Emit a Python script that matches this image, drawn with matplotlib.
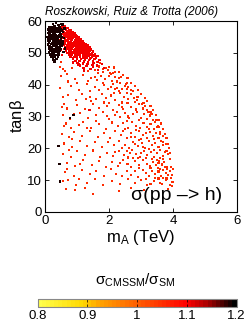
import matplotlib
matplotlib.use("Agg")
import matplotlib.pyplot as plt
import numpy as np
from matplotlib.colors import LinearSegmentedColormap, Normalize
from matplotlib.cm import ScalarMappable

plt.rcParams['font.family'] = ['Liberation Sans', 'DejaVu Sans']
plt.rcParams['mathtext.fontset'] = 'custom'
plt.rcParams['mathtext.rm'] = 'Liberation Sans'
plt.rcParams['mathtext.it'] = 'Liberation Sans:italic'

# black cluster, sigma ratio ~1.2 (high tan beta, light m_A)
black_ratio = 1.19
black_x = [0.25, 0.35, 0.42, 0.50,
           0.12, 0.20, 0.30, 0.38, 0.45,
           0.10, 0.17, 0.27, 0.33, 0.41, 0.48,
           0.14, 0.22, 0.30, 0.37, 0.44, 0.52,
           0.09, 0.16, 0.24, 0.32, 0.39, 0.46,
           0.12, 0.20, 0.28, 0.35, 0.43, 0.50,
           0.08, 0.15, 0.23, 0.31, 0.38, 0.45, 0.53,
           0.11, 0.19, 0.27, 0.34, 0.41, 0.49,
           0.09, 0.16, 0.24, 0.32, 0.39, 0.46, 0.54,
           0.13, 0.21, 0.28, 0.36, 0.43, 0.50,
           0.10, 0.18, 0.26, 0.33, 0.41, 0.48,
           0.14, 0.22, 0.30, 0.37, 0.45, 0.52,
           0.12, 0.20, 0.27, 0.35, 0.42, 0.50,
           0.15, 0.23, 0.31, 0.39, 0.46,
           0.13, 0.21, 0.29, 0.37, 0.44,
           0.17, 0.26, 0.34, 0.42,
           0.20, 0.30, 0.40,
           0.25, 0.36,
           0.30,
           0.18, 0.26, 0.34, 0.22, 0.29, 0.37, 0.16, 0.31, 0.40, 0.27,
           0.57, 0.60, 0.56, 0.62, 0.58, 0.55, 0.61,
           0.42, 0.45, 0.47, 0.78, 0.89]
black_y = [59.0, 59.3, 58.8, 59.1,
           58.2, 58.0, 58.3, 57.9, 58.1,
           57.4, 57.6, 57.3, 57.5, 57.6, 57.4,
           56.9, 57.0, 56.8, 57.1, 56.9, 57.0,
           56.3, 56.4, 56.2, 56.3, 56.5, 56.2,
           55.7, 55.6, 55.8, 55.7, 55.6, 55.8,
           55.0, 55.1, 54.9, 55.0, 55.2, 54.9, 55.0,
           54.4, 54.3, 54.5, 54.4, 54.3, 54.5,
           53.8, 53.9, 53.7, 53.8, 53.9, 53.7, 53.8,
           53.2, 53.1, 53.3, 53.2, 53.1, 53.3,
           52.6, 52.7, 52.5, 52.6, 52.7, 52.5,
           52.0, 51.9, 52.1, 52.0, 51.9, 52.1,
           51.4, 51.5, 51.3, 51.4, 51.5, 51.3,
           50.8, 50.7, 50.9, 50.8, 50.7,
           50.2, 50.1, 50.3, 50.2, 50.1,
           49.5, 49.6, 49.4, 49.5,
           48.8, 48.9, 48.7,
           48.0, 48.1,
           47.3,
           54.7, 55.3, 53.5, 56.6, 52.3, 51.7, 50.5, 49.1, 56.9, 47.7,
           56.5, 54.6, 52.9, 51.4, 50.3, 58.9, 57.6,
           20.8, 15.0, 9.5, 29.5, 30.5]

# dense red band, ratio ~1.1
red_ratio = 1.1
red_x = [0.55, 0.62,
         0.58, 0.70,
         0.56, 0.65, 0.74, 0.82,
         0.60, 0.68, 0.77, 0.86, 0.93,
         0.57, 0.64, 0.72, 0.80, 0.89, 0.97,
         0.61, 0.69, 0.76, 0.84, 0.92, 1.00, 1.07,
         0.58, 0.66, 0.73, 0.81, 0.88, 0.96, 1.04, 1.12,
         0.62, 0.70, 0.78, 0.85, 0.93, 1.01, 1.09, 1.17,
         0.59, 0.67, 0.75, 0.82, 0.90, 0.98, 1.06, 1.14, 1.22,
         0.63, 0.71, 0.79, 0.87, 0.95, 1.03, 1.11, 1.19, 1.27, 1.33,
         0.60, 0.68, 0.76, 0.84, 0.92, 1.00, 1.08, 1.16, 1.24, 1.31, 1.39,
         0.64, 0.72, 0.80, 0.88, 0.96, 1.04, 1.12, 1.20, 1.28, 1.36, 1.44,
         0.61, 0.69, 0.77, 0.85, 0.93, 1.01, 1.09, 1.17, 1.25, 1.33, 1.41, 1.50,
         0.66, 0.74, 0.82, 0.90, 0.98, 1.06, 1.14, 1.22, 1.30, 1.38, 1.47, 1.56,
         0.70, 0.79, 0.87, 0.95, 1.03, 1.11, 1.19, 1.27, 1.36, 1.45, 1.55, 1.64,
         0.76, 0.85, 0.94, 1.02, 1.10, 1.18, 1.27, 1.36, 1.46, 1.60,
         0.80, 0.92, 1.00, 1.09, 1.20, 1.30, 1.42, 1.55, 1.70,
         0.88, 1.00, 1.12, 1.25, 1.38, 1.50, 1.66,
         0.95, 1.08, 1.22, 1.35, 1.52, 1.78,
         1.02, 1.18, 1.33, 1.48, 1.62,
         1.10, 1.30, 1.50, 1.85,
         1.20, 1.42, 1.65,
         0.66, 0.83, 0.99, 1.15, 1.29, 0.74, 0.91, 1.07, 1.23, 1.40, 0.87, 1.04, 1.21,
         0.47, 0.52, 0.49, 0.53, 0.46, 0.51,
         1.39]
red_y = [58.5, 58.3,
         58.0, 57.8,
         57.3, 57.4, 57.2, 57.0,
         56.6, 56.7, 56.5, 56.4, 56.2,
         56.0, 56.1, 55.9, 56.0, 55.8, 55.6,
         55.4, 55.3, 55.5, 55.4, 55.2, 55.1, 54.9,
         54.8, 54.9, 54.7, 54.8, 54.6, 54.7, 54.5, 54.3,
         54.2, 54.1, 54.3, 54.2, 54.0, 54.1, 53.9, 53.7,
         53.6, 53.7, 53.5, 53.6, 53.4, 53.5, 53.3, 53.4, 53.1,
         53.0, 52.9, 53.1, 53.0, 52.8, 52.9, 52.7, 52.8, 52.6, 52.4,
         52.4, 52.5, 52.3, 52.4, 52.2, 52.3, 52.1, 52.2, 52.0, 51.9, 51.7,
         51.8, 51.7, 51.9, 51.8, 51.6, 51.7, 51.5, 51.6, 51.4, 51.3, 51.1,
         51.2, 51.3, 51.1, 51.2, 51.0, 51.1, 50.9, 51.0, 50.8, 50.7, 50.5, 50.4,
         50.6, 50.5, 50.7, 50.6, 50.4, 50.5, 50.3, 50.4, 50.2, 50.1, 49.9, 49.7,
         50.0, 49.9, 50.1, 50.0, 49.8, 49.9, 49.7, 49.8, 49.6, 49.5, 49.2, 49.0,
         49.4, 49.3, 49.5, 49.4, 49.2, 49.3, 49.1, 49.0, 48.8, 48.5,
         48.8, 48.7, 48.9, 48.8, 48.6, 48.5, 48.3, 48.1, 47.8,
         48.2, 48.0, 48.1, 47.9, 47.7, 47.5, 47.2,
         47.5, 47.4, 47.3, 47.1, 46.8, 46.5,
         46.8, 46.6, 46.5, 46.2, 46.0,
         46.0, 45.8, 45.5, 45.2,
         45.3, 45.0, 44.7,
         55.7, 55.0, 54.4, 53.3, 52.7, 51.5, 50.9, 50.1, 49.6, 48.2, 47.0, 46.3, 44.4,
         53.0, 55.9, 51.0, 49.3, 54.1, 57.7,
         32.1]

# sparse orange-red points, ratio ~1.05
sparse_ratio = 1.05
sparse_x = [0.48, 0.62, 0.85, 1.55, 1.70, 1.80, 1.92, 1.98, 1.65, 2.02,
            0.50, 0.95, 1.20, 1.45, 1.62, 1.75, 1.88, 2.00, 2.10, 2.18, 2.25, 1.35, 2.05, 0.72,
            0.47, 0.80, 1.05, 1.30, 1.55, 1.70, 1.85, 1.98, 2.12, 2.25, 2.35, 2.42, 2.50, 2.30, 2.55, 2.60, 1.40, 2.05,
            0.55, 0.72, 0.98, 1.15, 1.42, 1.60, 1.78, 1.90, 2.05, 2.20, 2.35, 2.48, 2.60, 2.70, 2.78, 2.88, 2.55, 2.15, 1.28,
            0.60, 0.70, 1.00, 1.25, 1.50, 1.70, 1.95, 2.00, 2.12, 2.30, 2.45, 2.58, 2.70, 2.85, 2.95, 3.05, 3.12, 2.40, 1.85, 3.20,
            0.55, 0.78, 0.90, 1.10, 1.35, 1.60, 1.80, 2.00, 2.18, 2.35, 2.50, 2.62, 2.75, 2.88, 3.00, 3.10, 3.20, 3.28, 2.25, 1.95, 3.30,
            0.65, 0.82, 1.05, 1.20, 1.45, 1.70, 1.90, 2.10, 2.28, 2.45, 2.60, 2.72, 2.85, 2.98, 3.08, 3.20, 3.30, 3.40, 3.45, 2.55, 1.60, 3.52,
            0.52, 0.75, 0.92, 1.15, 1.40, 1.65, 1.85, 2.02, 2.20, 2.38, 2.55, 2.68, 2.80, 2.95, 3.05, 3.18, 3.28, 3.38, 3.48, 3.55, 3.60, 2.45, 3.00,
            0.60, 0.85, 1.10, 1.30, 1.55, 1.78, 1.98, 2.15, 2.32, 2.50, 2.62, 2.75, 2.90, 3.02, 3.12, 3.25, 3.35, 3.45, 3.55, 3.62, 3.70, 2.42, 2.95,
            0.55, 0.80, 1.00, 1.25, 1.50, 1.72, 1.95, 2.12, 2.30, 2.48, 2.60, 2.72, 2.85, 2.98, 3.10, 3.20, 3.32, 3.42, 3.50, 3.60, 3.68, 3.75, 3.40, 2.55, 3.00,
            0.70, 0.95, 1.20, 1.48, 1.70, 1.92, 2.10, 2.28, 2.45, 2.58, 2.70, 2.82, 2.95, 3.05, 3.18, 3.28, 3.38, 3.48, 3.58, 3.65, 3.72, 3.80, 3.68, 3.55, 3.35,
            0.62, 0.90, 1.15, 1.40, 1.60, 1.85, 2.05, 2.22, 2.40, 2.55, 2.68, 2.80, 2.92, 3.05, 3.15, 3.25, 3.35, 3.45, 3.55, 3.62, 3.70, 3.78, 3.85, 3.92, 3.60, 3.82,
            0.55, 0.72, 0.98, 1.05, 1.30, 1.55, 1.80, 2.10, 2.35, 2.60, 2.82, 3.00, 3.20, 3.40, 3.55, 3.65, 3.78, 3.90, 3.98,
            0.65, 0.95, 1.50, 1.25, 2.30, 3.10, 3.85, 2.70,
            # near the upper envelope
            1.62, 1.73, 1.91, 1.99, 2.12, 2.18, 2.31, 2.38, 2.52, 2.57, 2.69, 2.75, 2.87, 2.92, 3.04, 3.08, 3.19,
            3.23, 3.33, 3.38, 3.47, 3.49, 3.57, 3.60, 3.69, 3.70, 3.79, 3.80, 3.86, 3.91, 3.93, 3.99, 3.97, 4.01, 3.98,
            1.50, 1.68, 1.82, 2.15, 2.32, 2.45, 2.58, 2.70, 2.82, 2.90, 3.00, 3.12, 3.20, 3.30, 3.38, 3.48, 3.55,
            3.62, 3.68, 3.75, 3.80, 3.85, 3.88, 3.92,
            # denser lower right
            2.90, 3.15, 3.30, 3.52, 3.70, 3.45, 3.15, 2.95, 2.75, 3.60, 3.25, 3.05, 2.80, 3.40, 3.15, 2.70, 2.50,
            2.85, 3.25, 2.95, 2.60, 2.40, 2.80, 2.20, 1.80, 1.55, 1.35, 2.65, 2.35, 2.20, 3.50, 3.75, 3.80, 3.95,
            3.30, 3.60,
            # extra lower left
            0.52, 0.60, 0.75, 0.68, 1.10, 0.85, 1.30, 1.00, 0.70, 1.45, 0.50, 0.55]
sparse_y = [45.5, 44.2, 45.1, 44.6, 45.8, 44.1, 45.3, 44.5, 43.8, 43.6,
            42.6, 41.8, 43.1, 42.2, 41.5, 42.8, 41.9, 42.7, 41.3, 42.4, 41.0, 41.2, 43.3, 41.0,
            38.9, 39.5, 38.4, 40.1, 39.2, 38.3, 39.8, 38.6, 40.2, 39.1, 40.4, 38.5, 39.6, 38.1, 38.7, 39.3, 38.0, 39.4,
            36.2, 36.8, 35.3, 37.2, 36.0, 35.4, 37.0, 35.8, 36.6, 35.2, 37.3, 36.1, 35.5, 37.0, 35.9, 35.3, 37.4, 37.5, 35.6,
            34.0, 32.5, 33.6, 32.3, 33.8, 32.6, 33.2, 34.3, 32.1, 33.5, 32.4, 34.1, 33.0, 32.2, 33.8, 32.5, 33.3, 34.4, 34.4, 32.0,
            30.5, 29.2, 30.8, 31.2, 29.5, 30.4, 31.3, 29.3, 30.6, 29.8, 31.1, 29.4, 30.7, 31.4, 29.6, 30.9, 29.2, 30.3, 31.4, 30.2, 31.5,
            27.8, 26.5, 27.2, 28.3, 26.4, 27.6, 26.2, 28.1, 26.9, 27.9, 26.3, 28.4, 27.1, 26.5, 28.0, 26.8, 27.7, 26.2, 28.2, 28.5, 28.5, 26.9,
            24.6, 23.5, 25.2, 24.0, 25.3, 23.4, 24.8, 23.2, 25.4, 24.2, 23.1, 24.9, 23.6, 25.3, 24.1, 23.3, 25.0, 23.9, 24.7, 23.2, 25.2, 25.5, 22.9,
            21.5, 20.4, 22.3, 20.8, 21.9, 20.3, 22.1, 20.9, 22.4, 21.0, 20.2, 22.0, 20.7, 21.8, 20.1, 22.3, 20.9, 21.7, 20.3, 22.2, 21.1, 20.0, 22.5,
            18.2, 17.4, 19.1, 17.8, 19.3, 17.2, 18.6, 17.5, 19.2, 18.0, 17.1, 19.4, 18.3, 17.3, 19.0, 17.8, 18.9, 17.2, 18.6, 19.4, 17.6, 18.8, 19.5, 19.0, 18.5,
            15.5, 14.4, 16.2, 14.8, 16.0, 14.2, 15.6, 14.5, 16.3, 15.0, 14.1, 15.9, 14.7, 16.4, 15.2, 14.3, 15.8, 14.6, 16.1, 14.9, 15.6, 14.2, 16.5, 15.4, 16.5,
            12.5, 11.4, 13.1, 11.8, 12.9, 11.2, 13.4, 12.0, 11.3, 13.0, 11.7, 12.8, 11.1, 13.3, 12.1, 11.4, 13.0, 11.9, 12.7, 11.3, 13.2, 12.2, 11.5, 12.8, 13.5, 13.4,
            9.6, 9.9, 8.6, 10.2, 9.1, 10.4, 8.4, 9.7, 8.8, 10.3, 9.0, 10.1, 8.5, 9.6, 10.5, 8.8, 9.9, 8.4, 9.5,
            7.2, 6.8, 5.6, 7.4, 6.5, 7.0, 7.3, 7.4,
            47.0, 46.9, 45.1, 45.5, 43.8, 43.9, 42.1, 42.3, 40.1, 40.5, 38.4, 38.0, 36.1, 36.2, 34.0, 34.1, 31.9,
            31.5, 30.9, 28.8, 29.0, 26.8, 26.6, 24.5, 24.0, 22.0, 21.3, 19.0, 18.1, 16.6, 14.0, 13.4, 11.6, 9.4, 8.0,
            46.5, 45.5, 44.8, 45.4, 44.1, 42.9, 42.0, 40.6, 39.5, 38.2, 37.0, 35.8, 34.9, 33.2, 32.0, 30.4, 29.0,
            27.8, 26.2, 24.6, 23.2, 21.4, 20.1, 18.4,
            16.8, 16.9, 13.8, 13.9, 10.8, 10.6, 10.3, 13.8, 16.8, 17.0, 19.8, 20.5, 21.2, 22.8, 24.7, 23.4, 26.0,
            25.8, 26.0, 28.9, 30.0, 32.9, 34.6, 38.7, 40.5, 42.5, 44.3, 18.5, 15.3, 18.8, 16.2, 14.0, 10.5, 10.8,
            8.9, 9.2,
            33.0, 27.0, 19.5, 13.5, 15.2, 23.0, 26.5, 40.5, 43.5, 35.0, 47.0, 45.0]

ratio_ticks = [0.8, 0.9, 1.0, 1.1, 1.2]
ratio_labels = ['0.8', '0.9', '1', '1.1', '1.2']

# colormap yellow -> orange -> red -> black, stepped like the original
cmap = LinearSegmentedColormap.from_list(
    'sig', [(0.0, (1.0, 1.0, 0.3)), (0.22, (1.0, 0.85, 0.0)), (0.3, (1.0, 0.65, 0.0)),
            (0.55, (1.0, 0.3, 0.0)), (0.75, (1.0, 0.0, 0.0)), (0.85, (0.7, 0.0, 0.0)),
            (1.0, (0.0, 0.0, 0.0))], N=48)
norm = Normalize(vmin=0.8, vmax=1.2)

fig = plt.figure(figsize=(2.49, 3.24), dpi=100)
ax = fig.add_axes([0.181, 0.346, 0.770, 0.589])

groups = [(sparse_x, sparse_y, sparse_ratio, 2.2),
          (red_x, red_y, red_ratio, 3.0),
          (black_x, black_y, black_ratio, 3.0)]
for xs, ys, r, size in groups:
    ax.scatter(xs, ys, c=np.full(len(xs), r), cmap=cmap, norm=norm,
               marker='s', s=size, linewidths=0)

ax.set_xlim(0, 6)
ax.set_ylim(0, 60)
ax.set_xticks([0, 2, 4, 6])
ax.set_yticks([0, 10, 20, 30, 40, 50, 60])
ax.tick_params(direction='in', top=True, right=True, length=3, width=0.6, labelsize=9.5, pad=2)
for sp in ax.spines.values():
    sp.set_linewidth(0.8)
ax.set_xlabel(r'm$_\mathrm{A}$ (TeV)', fontsize=12, labelpad=1)
ax.set_ylabel(r'tan$\mathrm{\beta}$', fontsize=12, labelpad=0)
ax.text(0.925, 0.04, 'σ(pp –> h)', transform=ax.transAxes, ha='right', va='bottom', fontsize=14)

fig.text(0.181, 0.963, 'Roszkowski, Ruiz & Trotta (2006)', fontsize=8.5, style='italic',
         ha='left', va='center')

# horizontal colorbar
cax = fig.add_axes([0.151, 0.0515, 0.799, 0.0247])
cb = fig.colorbar(ScalarMappable(norm=norm, cmap=cmap), cax=cax, orientation='horizontal')
cb.set_ticks(ratio_ticks)
cb.set_ticklabels(ratio_labels)
cb.outline.set_edgecolor('#888888')
cb.outline.set_linewidth(0.8)
cax.tick_params(direction='in', top=True, length=2, width=0.5, labelsize=9.5, pad=2)
fig.text(0.544, 0.136, r'σ$_\mathrm{CMSSM}$/σ$_\mathrm{SM}$', fontsize=11, ha='center', va='center')

fig.savefig('out.png', dpi=100)
